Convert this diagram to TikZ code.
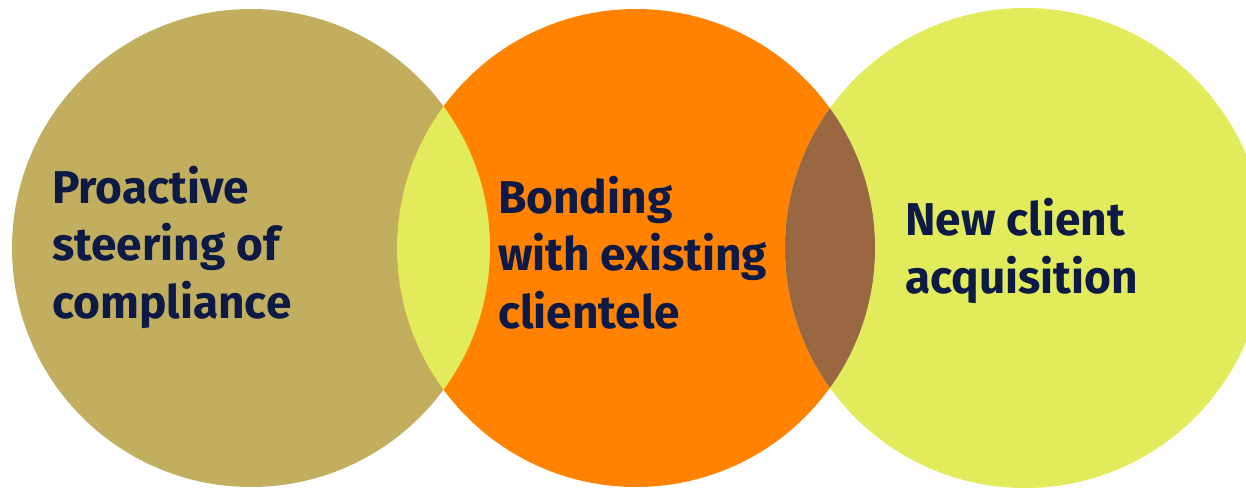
\documentclass[tikz,border=0pt]{standalone}
\usepackage{fontspec}
\setmainfont{Fira Sans}
\definecolor{olive}{HTML}{C1AF5F}
\definecolor{orng}{HTML}{FF8300}
\definecolor{lime}{HTML}{E2EB5B}
\definecolor{brwn}{HTML}{996742}
\definecolor{navy}{HTML}{0D1A45}
\tikzset{
  label text/.style={anchor=base west, inner sep=0pt, align=left, text=navy,
    font=\fontsize{46}{57.5}\selectfont\bfseries},
}
\begin{document}
\begin{tikzpicture}[x=1pt,y=-1pt]
\useasboundingbox (0,0) rectangle (1246,487);
\coordinate (cL) at (251,248);
\coordinate (cM) at (636,248);
\coordinate (cR) at (1025,248);
\fill[olive] (cL) circle[radius=239];
\fill[orng] (cM) circle[radius=239];
\fill[lime] (cR) circle[radius=240];
\begin{scope}
  \clip (cM) circle[radius=239];
  \fill[lime] (cL) circle[radius=239];
  \fill[brwn] (cR) circle[radius=240];
\end{scope}
\node[label text] (tL) at (52,318) {Proactive\\steering of\\compliance};
\node[label text] (tM) at (498,328) {Bonding\\with existing\\clientele};
\node[label text] (tR) at (905,293) {New client\\acquisition};
\end{tikzpicture}
\end{document}
